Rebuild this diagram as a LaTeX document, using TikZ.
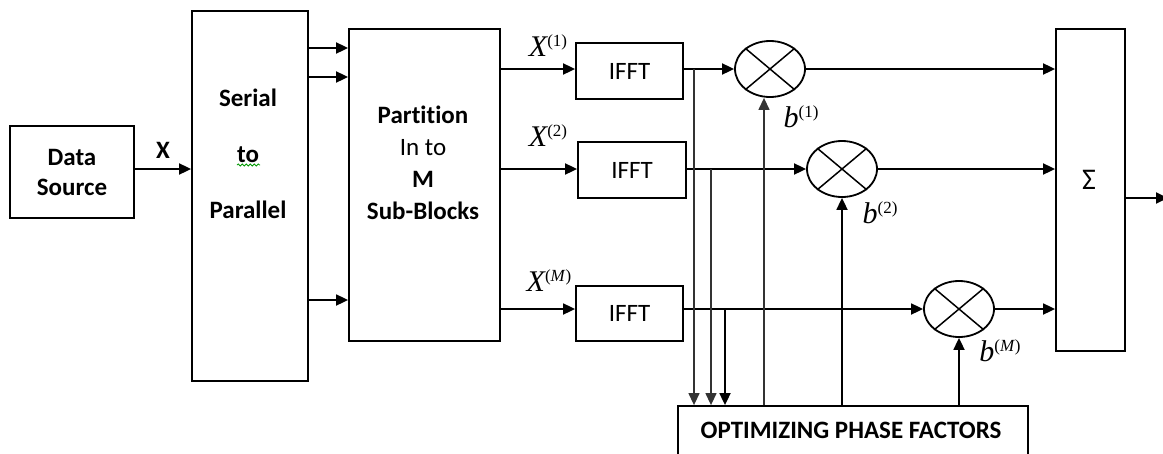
\documentclass[tikz,border=0pt]{standalone}
\usepackage{fontspec}
\setmainfont{Carlito}[Ligatures=NoCommon]
\newfontfamily\serifx{Liberation Serif}
\usetikzlibrary{shapes.geometric,arrows.meta,decorations.pathmorphing}
\newcommand\supx[1]{\raisebox{10pt}{\fontsize{17}{17}\selectfont\upshape #1}}
\begin{document}
\begin{tikzpicture}[x=1pt,y=-1pt,
  box/.style={draw, line width=1.8pt, inner sep=0pt, rectangle},
  txt/.style={font=\fontsize{25}{30}\selectfont, align=center, inner sep=0pt},
  arr/.style={line width=1.8pt, -{Triangle[length=12pt,width=11pt]}},
  tap/.style={line width=1.3pt, black!80, -{Triangle[length=12pt,width=11pt]}},
  mult/.style={draw, ellipse, line width=1.8pt, minimum width=70pt, minimum height=56pt, inner sep=0pt},
  lab/.style={inner sep=0pt, font=\serifx\fontsize{30}{30}\selectfont\itshape},
]
\clip (0,0) rectangle (1163,453);
\fill[white] (0,0) rectangle (1163,453);

% blocks
\node[box, minimum width=124pt, minimum height=92pt, txt, font=\fontsize{25}{30}\selectfont\bfseries] (ds) at (72,172) {Data\\Source};
\node[box, minimum width=116pt, minimum height=370pt] (sp) at (250,196) {};
\node[txt, font=\fontsize{25}{56}\selectfont\bfseries] (sptext) at (248,154) {Serial\\to\\Parallel};
\node[box, minimum width=151pt, minimum height=312pt] (part) at (424.5,185) {};
\node[txt, font=\fontsize{25}{32}\selectfont] (parttext) at (423,163) {\textbf{Partition}\\In to\\\textbf{M}\\\textbf{Sub-Blocks}};
\node[box, txt, minimum width=107pt, minimum height=56pt] (ifft1) at (629.5,71) {IFFT};
\node[box, txt, minimum width=108pt, minimum height=56pt] (ifft2) at (632,170) {IFFT};
\node[box, txt, minimum width=107pt, minimum height=55pt] (ifft3) at (629.5,313.5) {IFFT};
\node[mult] (m1) at (770,69) {};
\node[mult] (m2) at (842,169) {};
\node[mult] (m3) at (959,309) {};
\foreach \m in {m1,m2,m3}{
  \draw[line width=1.5pt] (\m.40) -- (\m.220) (\m.140) -- (\m.-40);
}
\node[box, minimum width=69pt, minimum height=322pt] (sig) at (1090.5,190) {};
\node[txt, font=\fontsize{30}{30}\selectfont] (sigtext) at (1089,180) {Σ};
\node[box, minimum width=350pt, minimum height=74pt] (opt) at (853,443) {};
\node[txt, font=\fontsize{25}{30}\selectfont\bfseries] (opttext) at (851,430) {OPTIMIZING PHASE FACTORS};

% labels
\node[txt, font=\fontsize{25}{30}\selectfont\bfseries] (xlab) at (163,150) {X};
\node[lab] (x1) at (548,46) {X\supx{(1)}};
\node[lab] (x2) at (548,136) {X\supx{(2)}};
\node[lab] (xm) at (549,281) {X\supx{(\textit{M})}};
\node[lab] (b1) at (801,117) {b\supx{(1)}};
\node[lab] (b2) at (880,213) {b\supx{(2)}};
\node[lab] (bm) at (1000,351) {b\supx{(\textit{M})}};
\draw[green!60!black, line width=0.8pt, decorate, decoration={snake, amplitude=1pt, segment length=4pt}] (237,165) -- (260,165);

% connectors
\draw[arr] (ds.east |- 0,169) -- (sp.west |- 0,169);
\foreach \yy in {48,77,300}{
  \draw[arr] (sp.east |- 0,\yy) -- (part.west |- 0,\yy);
}
\draw[arr] (part.east |- m1) -- (ifft1.west |- m1);
\draw[arr] (part.east |- m2) -- (ifft2.west |- m2);
\draw[arr] (part.east |- m3) -- (ifft3.west |- m3);
\draw[arr] (ifft1.east |- m1) -- (m1.west);
\draw[arr] (ifft2.east |- m2) -- (m2.west);
\draw[arr] (ifft3.east |- m3) -- (m3.west);
\draw[arr] (m1.east) -- (sig.west |- m1);
\draw[arr] (m2.east) -- (sig.west |- m2);
\draw[arr] (m3.east) -- (sig.west |- m3);
\coordinate (out) at (1168,198);
\draw[arr] (sig.east |- out) -- (out);

% taps to optimizer
\coordinate (t1) at (694,69);
\coordinate (t2) at (711,169);
\coordinate (t3) at (725,309);
\draw[tap] (t1) -- (t1 |- opt.north);
\draw[tap] (t2) -- (t2 |- opt.north);
\draw[arr] (t3) -- (t3 |- opt.north);

% phase factors up
\coordinate (u1) at (764,0);
\draw[tap] (opt.north -| u1) -- (u1 |- m1.south);
\draw[arr] (opt.north -| m2.south) -- (m2.south);
\draw[arr] (opt.north -| m3.south) -- (m3.south);
\end{tikzpicture}
\end{document}
